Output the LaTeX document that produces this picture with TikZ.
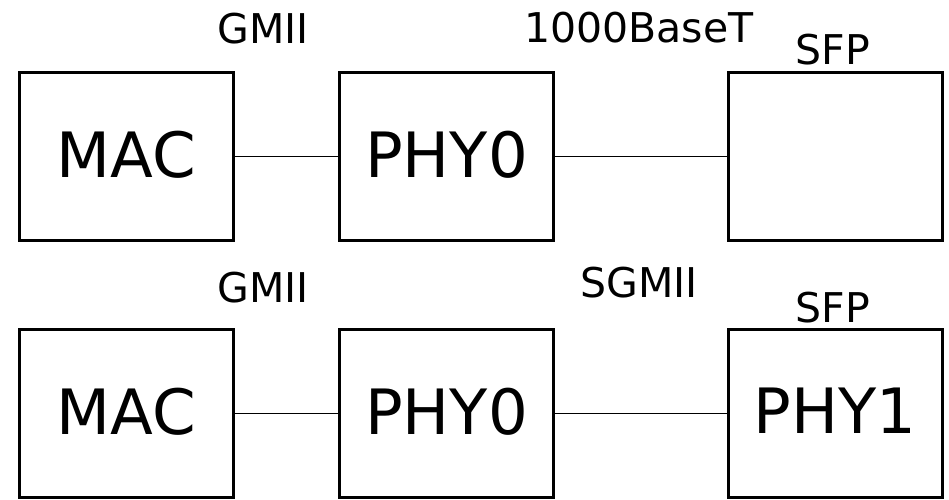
\documentclass[tikz,border=0pt]{standalone}
\usepackage{fontspec}
\setmainfont{DejaVu Sans}
\begin{document}
\begin{tikzpicture}[x=1pt,y=-1pt,
  blk/.style={draw=black, line width=3pt, minimum width=214pt, minimum height=168pt,
    inner sep=0pt, text depth=5pt, font=\fontsize{62.5}{62.5}\selectfont},
  lbl/.style={anchor=base, inner sep=0pt, font=\fontsize{41}{41}\selectfont},
  wire/.style={draw=black, line width=1.2pt}]
\useasboundingbox (0,0) rectangle (949,499);
% top row
\node[blk] (mac1) at (126.5,156.5) {MAC};
\node[blk] (phya) at (446.5,156.5) {PHY0};
\node[blk] (sfp1) at (835,156.5) {};
\draw[wire] (mac1.east) -- (phya.west);
\draw[wire] (phya.east) -- (sfp1.west);
\node[lbl] (g1) at (263,43) {GMII};
\node[lbl] (t1) at (639,42) {1000BaseT};
\node[lbl] (s1) at (833,64) {SFP};
% bottom row
\node[blk] (mac2) at (126.5,413.5) {MAC};
\node[blk] (phyb) at (446.5,413.5) {PHY0};
\node[blk] (phyc) at (835,413.5) {PHY1};
\draw[wire] (mac2.east) -- (phyb.west);
\draw[wire] (phyb.east) -- (phyc.west);
\node[lbl] (g2) at (263,302) {GMII};
\node[lbl] (t2) at (639,297) {SGMII};
\node[lbl] (s2) at (833,322) {SFP};
\end{tikzpicture}
\end{document}
